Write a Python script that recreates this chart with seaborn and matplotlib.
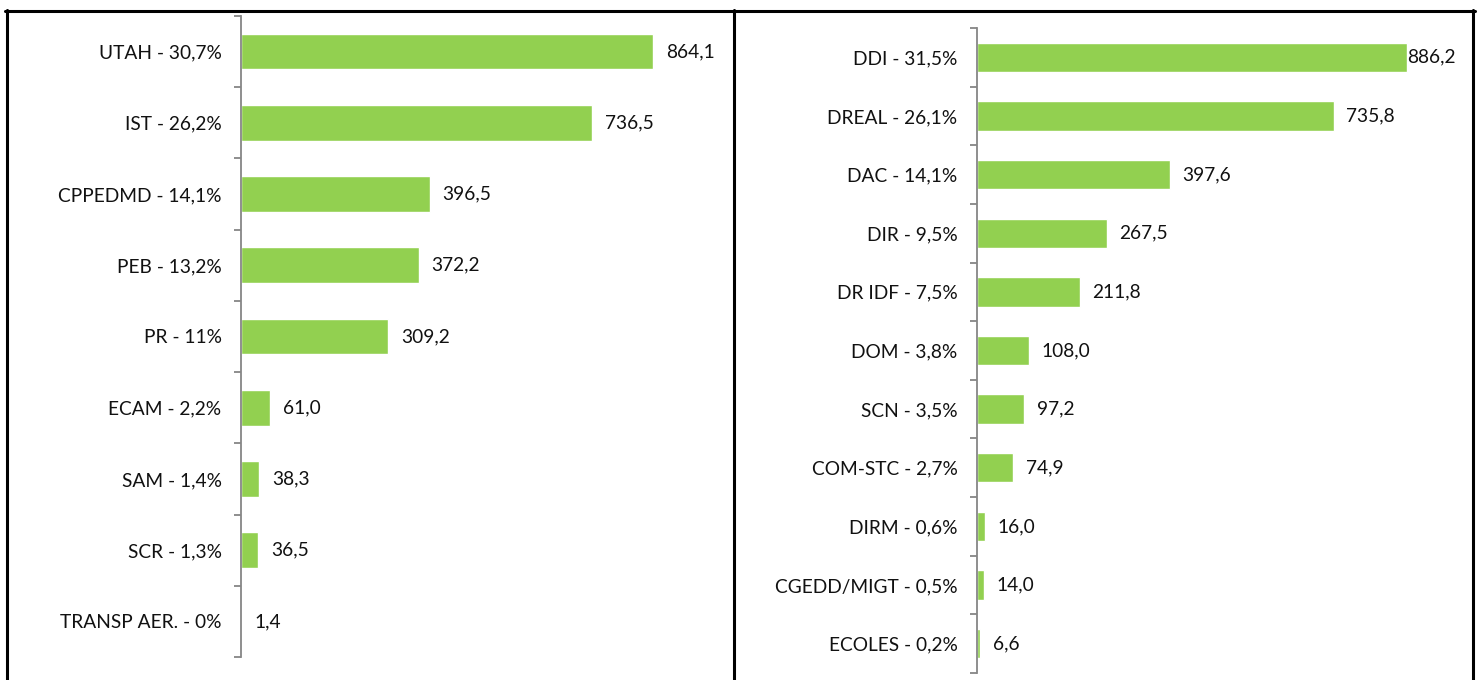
import matplotlib
matplotlib.use("Agg")
import matplotlib.pyplot as plt
import seaborn as sns
import pandas as pd
from matplotlib.lines import Line2D

sns.set_theme(style="white")
plt.rcParams['font.family'] = ['Lato', 'DejaVu Sans']

left_labels = ["UTAH - 30,7%", "IST - 26,2%", "CPPEDMD - 14,1%", "PEB - 13,2%", "PR - 11%",
               "ECAM - 2,2%", "SAM - 1,4%", "SCR - 1,3%", "TRANSP AER. - 0%"]
left_values = [864.1, 736.5, 396.5, 372.2, 309.2, 61.0, 38.3, 36.5, 1.4]

right_labels = ["DDI - 31,5%", "DREAL - 26,1%", "DAC - 14,1%", "DIR - 9,5%", "DR IDF - 7,5%",
                "DOM - 3,8%", "SCN - 3,5%", "COM-STC - 2,7%", "DIRM - 0,6%",
                "CGEDD/MIGT - 0,5%", "ECOLES - 0,2%"]
right_values = [886.2, 735.8, 397.6, 267.5, 211.8, 108.0, 97.2, 74.9, 16.0, 14.0, 6.6]

W, H = 1479, 680
fig = plt.figure(figsize=(W / 100, H / 100), dpi=100)

BAR = "#92D050"
SPINE = "#868686"
FS = 13.8


def panel(rect_px, labels, values, xmax):
    x0, y0, x1, y1 = rect_px
    ax = fig.add_axes([x0 / W, 1 - y1 / H, (x1 - x0) / W, (y1 - y0) / H])
    df = pd.DataFrame({"label": labels, "value": values})
    sns.barplot(data=df, x="value", y="label", orient="h", color=BAR,
                width=0.5, ax=ax, saturation=1)
    n = len(labels)
    ax.set_xlim(0, xmax)
    ax.set_ylim(n - 0.5, -0.5)
    ax.set_xlabel("")
    ax.set_ylabel("")
    ax.set_xticks([])
    for s in ["top", "right", "bottom"]:
        ax.spines[s].set_visible(False)
    ax.spines["left"].set_color(SPINE)
    ax.spines["left"].set_linewidth(1.3)
    ax.set_yticks(range(n))
    ax.set_yticklabels(labels, fontsize=FS, color="#111111")
    ax.tick_params(axis="y", which="major", length=0, pad=14)
    ax.set_yticks([i - 0.5 for i in range(n + 1)], minor=True)
    ax.tick_params(axis="y", which="minor", length=5, width=1.3, color=SPINE, direction="out", left=True)
    ax.patch.set_alpha(0)
    for i, v in enumerate(values):
        txt = f"{v:.1f}".replace(".", ",")
        pad = 0 if v / xmax > 0.87 else 9
        ax.annotate(txt, xy=(v, i), xytext=(pad, 0), textcoords="offset points",
                    ha="left", va="center", fontsize=FS, color="#111111")
    return ax


panel((241, 16, 718, 657), left_labels, left_values, 1000)
panel((977, 28, 1462, 673), right_labels, right_values, 1000)

# frame lines
lw = 2.2
def hline(y, xa, xb):
    fig.add_artist(Line2D([xa / W, xb / W], [1 - y / H, 1 - y / H], color="black", lw=lw))
def vline(x, ya, yb):
    fig.add_artist(Line2D([x / W, x / W], [1 - ya / H, 1 - yb / H], color="black", lw=lw))

hline(10.5, 5, 1475)
vline(6.5, 9.5, 681)
vline(734, 9.5, 681)
vline(1473, 9.5, 681)

fig.savefig("out.png", dpi=100, facecolor="white")
